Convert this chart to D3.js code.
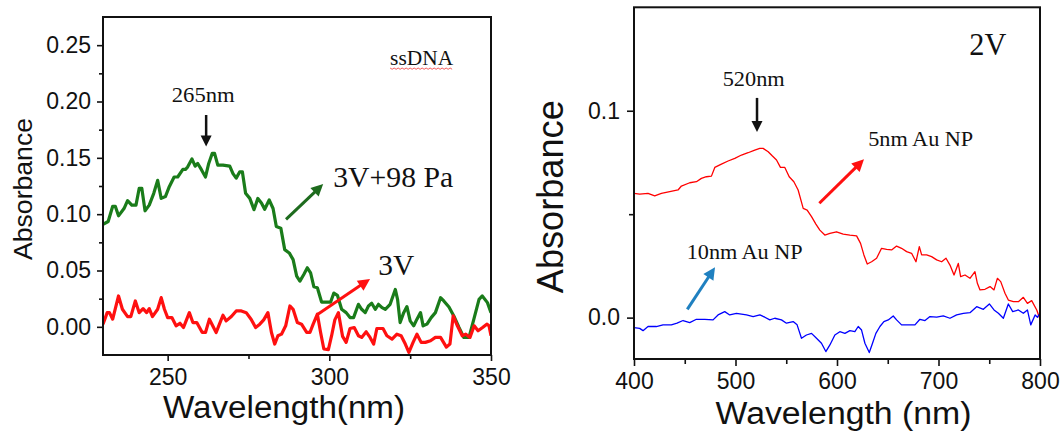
<!DOCTYPE html>
<html>
<head>
<meta charset="utf-8">
<script src="https://cdn.jsdelivr.net/npm/d3@7"></script>
<style>
  body { margin: 0; background: #fff; }
  svg { display: block; }
  .axis text { font-family: "Liberation Sans", Arial, sans-serif; fill: #111; }
  .axis line { stroke: #111; stroke-width: 1.6; }
  .title { font-family: "Liberation Sans", Arial, sans-serif; fill: #111; }
  .note { font-family: "Liberation Serif", "Times New Roman", serif; fill: #111; }
</style>
</head>
<body>
<div id="chart"></div>
<script>
// ---- left panel: ssDNA spectra ----
const dnaPlasmaWl = [230, 231.6, 233, 233.8, 234.8, 236.5, 237.6, 238.9, 240.2, 241.2, 242, 243, 244.3, 245.7, 246.9, 248, 249.3, 250.5, 252, 253.1, 254.7, 255.5, 256.2, 257.5, 258.5, 259.3, 260.4, 261.7, 262.7, 263.8, 264.5, 265.5, 267.1, 269.2, 270.2, 271.2, 272.3, 273.1, 274.1, 275.4, 276.7, 277.9, 279, 280, 281.4, 282.6, 283.6, 285, 286.2, 287.6, 288.8, 289.9, 290.9, 292.1, 293.2, 294.2, 295.2, 296.3, 297.6, 299.2, 300.4, 301.4, 302.5, 303.8, 305.2, 306.4, 307.5, 309, 310, 311.1, 312.1, 313.1, 314.2, 315.2, 316.3, 317.3, 318.8, 320.4, 321.1, 321.9, 323, 324, 325, 326.1, 327.1, 328.2, 329, 330.2, 331.5, 332.8, 334.4, 335.4, 337, 338.5, 340.1, 341.6, 343.2, 344.7, 346.3, 347.3, 348.9, 350];
const dnaPlasmaAbs = [0.091, 0.0935, 0.107, 0.107, 0.0985, 0.105, 0.112, 0.108, 0.108, 0.123, 0.123, 0.103, 0.108, 0.1185, 0.130, 0.114, 0.1156, 0.1244, 0.133, 0.133, 0.1397, 0.1397, 0.142, 0.149, 0.1426, 0.145, 0.1397, 0.133, 0.145, 0.154, 0.154, 0.1435, 0.1435, 0.1426, 0.136, 0.132, 0.1376, 0.1376, 0.1185, 0.114, 0.104, 0.114, 0.110, 0.1044, 0.1126, 0.105, 0.089, 0.0876, 0.0685, 0.0656, 0.0597, 0.045, 0.0406, 0.0465, 0.0524, 0.048, 0.0356, 0.0347, 0.022, 0.022, 0.022, 0.030, 0.028, 0.0156, 0.0126, 0.0082, 0.0082, 0.020, 0.0156, 0.0126, 0.0185, 0.0209, 0.0156, 0.020, 0.017, 0.0156, 0.020, 0.0332, 0.0244, 0.0038, 0.0126, 0.018, 0.0053, 0.0009, 0.0068, 0.0126, 0.0009, 0.0024, 0.0082, 0.0126, 0.0259, 0.023, 0.0176, 0.0097, -0.0006, -0.0094, -0.0094, 0.0068, 0.0244, 0.0274, 0.0215, 0.0126];

const dna3VWl = [230, 231.3, 232, 233, 234.8, 236, 237.6, 238.6, 240, 241.2, 242.4, 243.5, 244.3, 245.3, 246.9, 248, 249, 250, 251.3, 252.6, 253.8, 254.9, 255.7, 256.7, 257.8, 259, 260.7, 261.7, 262.9, 264.2, 265, 265.8, 267.1, 268.1, 269.7, 271.2, 272.8, 274.3, 275.8, 277.2, 278.5, 279.7, 281, 282.1, 283.1, 284.1, 285.2, 286.5, 287.8, 288.8, 290.1, 291.4, 293, 294, 295, 296.3, 297.3, 298.3, 299.7, 300.7, 301.7, 302.8, 304.1, 305.2, 306.4, 307.7, 309, 310, 311.4, 312.6, 313.7, 314.7, 316.6, 317.8, 319.4, 320.9, 322.2, 323.5, 324.6, 325.9, 327.1, 328.4, 329.7, 331.3, 332.8, 334.4, 336.2, 337.3, 338.3, 339.6, 341.1, 342.2, 343.5, 344.8, 346, 347.4, 348.7, 349.4, 350];
const dna3VAbs = [0.0024, 0.0126, 0.0126, 0.0068, 0.0274, 0.0156, 0.0091, 0.0091, 0.023, 0.0126, 0.0162, 0.0126, 0.0162, 0.0091, 0.0156, 0.0259, 0.0156, 0.0082, 0.0082, 0.0009, 0.0032, -0.0006, 0.0053, 0.0126, 0.0038, 0.0038, -0.005, -0.005, 0.0068, -0.0006, -0.005, 0.0009, 0.0103, 0.0053, 0.0091, 0.0141, 0.0141, 0.0126, 0.0068, -0.0006, 0.0024, 0.0062, 0.0126, -0.005, -0.0153, -0.0079, -0.0065, 0.0009, 0.0185, 0.0156, 0.0038, 0.0024, -0.005, -0.005, 0.0024, 0.0112, -0.005, -0.0197, -0.0203, -0.0079, 0.0062, 0.0126, -0.0085, -0.0138, -0.0015, -0.0006, -0.0079, -0.0094, -0.0044, -0.0094, -0.0153, -0.0015, -0.0015, -0.0079, -0.0109, -0.0065, -0.0079, -0.0153, -0.0226, -0.0138, -0.0065, -0.0138, -0.0138, -0.0124, -0.0094, -0.0094, -0.018, -0.0153, 0.0097, 0.0009, -0.0079, -0.0065, -0.0094, 0.0009, -0.0035, -0.0006, 0.0024, 0.0009, -0.0079];

const dnaXTicks = [250, 300, 350];
const dnaXMinor = [275, 325];
const dnaYTicks = [0, 0.05, 0.10, 0.15, 0.20, 0.25];
const dnaYMinor = [0.025, 0.075, 0.125, 0.175, 0.225];

// ---- right panel: Au nanoparticles at 2V ----
const np5Wl = [400, 405.6, 413.8, 420.4, 427, 435.2, 443.4, 446.7, 454.9, 461.5, 466.4, 471.3, 476.3, 479.6, 486.1, 492.7, 499.3, 505.9, 512.4, 519, 523.9, 527.2, 532.2, 536.4, 540.4, 544.3, 548.6, 552.9, 557.5, 561.7, 566.7, 570.6, 574.9, 579.2, 583.1, 588, 593, 599.5, 606.1, 612.7, 619.3, 623.2, 626.5, 629.8, 634.1, 639, 643.9, 648.9, 653.8, 658.7, 663.6, 668.6, 673.5, 677.8, 681.1, 683.4, 688.3, 693.2, 698.2, 703.1, 707.4, 711.3, 715.3, 719.5, 721.8, 726.1, 731, 735.9, 738.3, 740.9, 745.8, 750.8, 754.7, 758, 761.3, 765.5, 768.8, 773.8, 778.7, 783.6, 787.6, 791.8, 796.8, 800];
const np5Abs = [0.0601, 0.0597, 0.0601, 0.0589, 0.0601, 0.0609, 0.0617, 0.0636, 0.0652, 0.0657, 0.0673, 0.0681, 0.0684, 0.0726, 0.0742, 0.0757, 0.077, 0.0786, 0.0797, 0.081, 0.0818, 0.0818, 0.0802, 0.0781, 0.0762, 0.0726, 0.0726, 0.0681, 0.0657, 0.0617, 0.0528, 0.052, 0.0488, 0.0452, 0.0423, 0.0399, 0.0407, 0.0415, 0.0404, 0.0399, 0.0395, 0.0359, 0.0303, 0.0259, 0.027, 0.0287, 0.0335, 0.033, 0.0327, 0.0346, 0.0335, 0.0319, 0.0311, 0.027, 0.0343, 0.0303, 0.0303, 0.0295, 0.0279, 0.027, 0.0287, 0.0254, 0.0206, 0.0262, 0.0198, 0.0206, 0.019, 0.0222, 0.0166, 0.0134, 0.0137, 0.015, 0.0134, 0.019, 0.0174, 0.0118, 0.0085, 0.0077, 0.0077, 0.0098, 0.0069, 0.0082, 0.0037, -0.0008];

const np10Wl = [400, 405.6, 408.9, 413.8, 422, 428.6, 436.8, 442.4, 448.3, 454.9, 461.5, 469.7, 477.9, 482.8, 489.4, 494.3, 500.9, 510.8, 517.4, 524, 528.9, 533.8, 538.7, 545.3, 550.2, 556.8, 560.7, 565, 569.9, 574.9, 579.8, 584.7, 589, 593, 597.9, 602.8, 607.8, 612.7, 617.6, 620.9, 624.2, 627.5, 631.8, 635, 638.3, 642.3, 646.2, 650.5, 655.4, 658.7, 663.6, 670.2, 676.8, 681.7, 686.7, 691.6, 698.2, 704.7, 711.3, 717.9, 724.5, 731, 737.6, 744.2, 750.1, 754.7, 759, 763.9, 768.8, 773.1, 778.7, 783.6, 787.6, 790.9, 795.2, 797.5, 800];
const np10Abs = [-0.0048, -0.0052, -0.0063, -0.0043, -0.0043, -0.0035, -0.0035, -0.0027, -0.0014, -0.0024, -0.0008, -0.0008, -0.0011, 0.0013, 0.0029, 0.0013, 0.0021, 0.0013, 0.0005, 0.0013, 0.0002, -0.0011, -0.0003, -0.0011, -0.0027, -0.0019, -0.0035, -0.01, -0.0084, -0.0076, -0.01, -0.0124, -0.0164, -0.0132, -0.0084, -0.0068, -0.0076, -0.0063, -0.0068, -0.0043, -0.006, -0.0124, -0.0169, -0.0124, -0.0076, -0.0043, -0.0019, -0.0011, 0.0008, -0.0011, -0.0035, -0.0035, -0.0035, -0.0008, -0.0014, 0.0005, 0.0002, 0.0008, -0.0003, 0.0013, 0.0021, 0.0024, 0.0053, 0.004, 0.0066, 0.0037, 0.0021, -0.0003, 0.0066, 0.0029, 0.0037, 0.0021, 0.0037, -0.0035, 0.0013, 0.0002, 0.0021];

const npXTicks = [400, 500, 600, 700, 800];
const npXMinor = [450, 550, 650, 750];
const npYTicks = [0.0, 0.1];
const npYMinor = [0.05];

const W = 1063, H = 431;
const svg = d3.select('#chart').append('svg')
    .attr('width', W)
    .attr('height', H)
    .style('background', '#fff');

// arrow drawn as a thick shaft plus a filled head
function arrow(g, x1, y1, x2, y2, color, w, hl, hw) {
    const a = Math.atan2(y2 - y1, x2 - x1);
    const bx = x2 - hl * Math.cos(a), by = y2 - hl * Math.sin(a);
    const px = -Math.sin(a), py = Math.cos(a);
    g.append('line')
        .attr('x1', x1).attr('y1', y1)
        .attr('x2', bx + Math.cos(a)).attr('y2', by + Math.sin(a))
        .attr('stroke', color).attr('stroke-width', w);
    g.append('path')
        .attr('d', `M${x2},${y2}L${bx + px * hw / 2},${by + py * hw / 2}L${bx - px * hw / 2},${by - py * hw / 2}Z`)
        .attr('fill', color);
}

function panel(p) {
    const g = svg.append('g');
    const x = d3.scaleLinear().domain(p.xDomain).range(p.xRange);
    const y = d3.scaleLinear().domain(p.yDomain).range(p.yRange);
    const [left, right] = p.xRange;
    const [bottom, top] = p.yRange;

    const clipId = 'clip' + p.id;
    svg.append('clipPath').attr('id', clipId)
        .append('rect').attr('x', left).attr('y', top)
        .attr('width', right - left).attr('height', bottom - top);

    // ticks, minor ones without labels
    const gx = g.append('g').attr('class', 'axis').attr('transform', `translate(0,${bottom})`);
    gx.append('g').call(d3.axisBottom(x).tickValues(p.xMinor).tickSize(p.tick - 2).tickFormat(''));
    gx.append('g').call(d3.axisBottom(x).tickValues(p.xTicks).tickSize(p.tick).tickPadding(p.xPad).tickFormat(d3.format('d')))
        .selectAll('text').style('font-size', p.tickFont + 'px');
    const gy = g.append('g').attr('class', 'axis').attr('transform', `translate(${left},0)`);
    gy.append('g').call(d3.axisLeft(y).tickValues(p.yMinor).tickSize(p.tick - 2).tickFormat(''));
    gy.append('g').call(d3.axisLeft(y).tickValues(p.yTicks).tickSize(p.tick).tickPadding(p.yPad).tickFormat(d3.format(p.yFmt)))
        .selectAll('text').style('font-size', p.tickFont + 'px');
    g.selectAll('.domain').remove();

    // spectra
    const line = d3.line().x(d => x(d[0])).y(d => y(d[1]));
    p.series.forEach(s => {
        g.append('path')
            .datum(d3.zip(s.wl, s.abs))
            .attr('clip-path', `url(#${clipId})`)
            .attr('fill', 'none')
            .attr('stroke', s.color)
            .attr('stroke-width', s.width)
            .attr('stroke-linejoin', 'round')
            .attr('d', line);
    });

    // frame
    g.append('rect')
        .attr('x', left).attr('y', top)
        .attr('width', right - left).attr('height', bottom - top)
        .attr('fill', 'none').attr('stroke', '#111').attr('stroke-width', 2);

    // axis titles
    g.append('text').attr('class', 'title')
        .attr('x', p.xTitle.x).attr('y', p.xTitle.y)
        .attr('text-anchor', 'middle')
        .attr('textLength', p.xTitle.len).attr('lengthAdjust', 'spacingAndGlyphs')
        .style('font-size', p.xTitle.size + 'px')
        .text(p.xTitle.text);
    g.append('text').attr('class', 'title')
        .attr('transform', `translate(${p.yTitle.x},${p.yTitle.y}) rotate(-90)`)
        .attr('text-anchor', 'middle')
        .attr('textLength', p.yTitle.len).attr('lengthAdjust', 'spacingAndGlyphs')
        .style('font-size', p.yTitle.size + 'px')
        .text('Absorbance');

    // annotations in data units
    p.notes.forEach(n => {
        const t = g.append('text').attr('class', 'note')
            .attr('x', x(n.wl)).attr('y', y(n.v))
            .attr('text-anchor', n.anchor || 'start')
            .style('font-size', n.size + 'px')
            .text(n.text);
        if (n.len) t.attr('textLength', n.len).attr('lengthAdjust', 'spacingAndGlyphs');
        if (n.squiggle) {
            const x0 = x(n.wl), y0 = y(n.v) + 3;
            let d = `M${x0},${y0}`;
            for (let i = 1; i <= n.len / 2; i++) d += `L${x0 + i * 2},${y0 + (i % 2 ? 1.3 : 0)}`;
            g.append('path').attr('d', d).attr('fill', 'none').attr('stroke', '#f03030').attr('stroke-width', 0.8);
        }
    });
    p.arrows.forEach(a => arrow(g, x(a.from[0]), y(a.from[1]), x(a.to[0]), y(a.to[1]), a.color, a.w, a.hl, a.hw));
}

panel({
    id: 'dna',
    xDomain: [230, 350], xRange: [103, 491],
    yDomain: [-0.025, 0.275], yRange: [355, 17],
    xTicks: dnaXTicks, xMinor: dnaXMinor, yTicks: dnaYTicks, yMinor: dnaYMinor,
    yFmt: '.2f', tick: 6, xPad: 8, yPad: 6, tickFont: 23,
    series: [
        { wl: dnaPlasmaWl, abs: dnaPlasmaAbs, color: '#1a7c1a', width: 3.2 },
        { wl: dna3VWl, abs: dna3VAbs, color: '#ff1010', width: 3.2 }
    ],
    xTitle: { text: 'Wavelength(nm)', x: 284, y: 418, size: 31, len: 242 },
    yTitle: { x: 31.5, y: 189, size: 26.5, len: 142 },
    notes: [
        { text: 'ssDNA', wl: 318.8, v: 0.2324, size: 21, len: 63, squiggle: true },
        { text: '265nm', wl: 261, v: 0.200, size: 22, anchor: 'middle', len: 63 },
        { text: '3V+98 Pa', wl: 301.2, v: 0.1244, size: 30, len: 120 },
        { text: '3V', wl: 315.1, v: 0.046, size: 30, len: 36 }
    ],
    arrows: [
        { from: [261.9, 0.188], to: [261.9, 0.160], color: '#111', w: 2.5, hl: 11, hw: 11 },
        { from: [286.6, 0.0954], to: [298.1, 0.1268], color: '#1e6b1e', w: 3, hl: 12, hw: 12 },
        { from: [296.1, 0.0105], to: [312.6, 0.0425], color: '#ff1010', w: 3, hl: 12, hw: 12 }
    ]
});

panel({
    id: 'np',
    xDomain: [400, 800], xRange: [634, 1040],
    yDomain: [-0.02, 0.15], yRange: [359, 7.3],
    xTicks: npXTicks, xMinor: npXMinor, yTicks: npYTicks, yMinor: npYMinor,
    yFmt: '.1f', tick: 7, xPad: 7, yPad: 7, tickFont: 23,
    series: [
        { wl: np5Wl, abs: np5Abs, color: '#ff0000', width: 1.3 },
        { wl: np10Wl, abs: np10Abs, color: '#0000ff', width: 1.3 }
    ],
    xTitle: { text: 'Wavelength (nm)', x: 843.5, y: 424, size: 31, len: 256 },
    yTitle: { x: 563, y: 196.7, size: 36, len: 193 },
    notes: [
        { text: '2V', wl: 730.3, v: 0.127, size: 31, len: 37 },
        { text: '520nm', wl: 517.9, v: 0.112, size: 22, anchor: 'middle', len: 62 },
        { text: '5nm Au NP', wl: 630.8, v: 0.083, size: 22, len: 105 },
        { text: '10nm Au NP', wl: 451.9, v: 0.0283, size: 22, len: 116 }
    ],
    arrows: [
        { from: [521.2, 0.1062], to: [521.2, 0.0897], color: '#111', w: 2.5, hl: 11, hw: 11 },
        { from: [582.6, 0.0553], to: [626.6, 0.0765], color: '#ff1010', w: 3, hl: 12, hw: 12 },
        { from: [452.5, 0.004], to: [479.8, 0.0243], color: '#1f80c0', w: 3, hl: 12, hw: 12 }
    ]
});
</script>
</body>
</html>
